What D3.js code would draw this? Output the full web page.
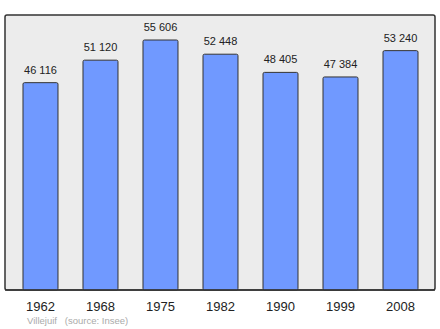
<!DOCTYPE html>
<html>
<head>
<meta charset="utf-8">
<script src="https://cdn.jsdelivr.net/npm/d3@7"></script>
<style>
  body { margin: 0; background: #fff; }
  svg { display: block; font-family: "Liberation Sans", Arial, sans-serif; }
</style>
</head>
<body>
<svg id="chart"></svg>
<script>
const years = ["1962", "1968", "1975", "1982", "1990", "1999", "2008"];
const population = [46116, 51120, 55606, 52448, 48405, 47384, 53240];
const place = "Villejuif";
const source = "(source: Insee)";

const width = 440, height = 329;
const frame = { left: 5, top: 15, right: 435, bottom: 290 };

const svg = d3.select("#chart")
  .attr("width", width)
  .attr("height", height);

// grey plot frame
svg.append("rect")
  .attr("x", frame.left)
  .attr("y", frame.top)
  .attr("width", frame.right - frame.left)
  .attr("height", frame.bottom - frame.top)
  .attr("rx", 2)
  .attr("fill", "#ececec")
  .attr("stroke", "#333")
  .attr("stroke-width", 1.5);

const x = d3.scaleBand()
  .domain(years)
  .range([10.5, 430.5])
  .paddingInner(0.4167)
  .paddingOuter(0.2083);

const y = d3.scaleLinear()
  .domain([0, d3.max(population) * 1.1])
  .range([frame.bottom, frame.top]);

const data = years.map((yr, i) => ({ year: yr, value: population[i] }));
const fmt = v => d3.format(",")(v).replace(/,/g, " ");

svg.selectAll("rect.bar")
  .data(data)
  .enter()
  .append("rect")
  .attr("class", "bar")
  .attr("x", d => x(d.year))
  .attr("y", d => y(d.value))
  .attr("width", x.bandwidth())
  .attr("height", d => y(0) - y(d.value))
  .attr("rx", 1.5)
  .attr("fill", "#7099ff")
  .attr("stroke", "#333")
  .attr("stroke-width", 1);

svg.selectAll("text.value")
  .data(data)
  .enter()
  .append("text")
  .attr("class", "value")
  .attr("x", d => x(d.year) + x.bandwidth() / 2)
  .attr("y", d => y(d.value) - 9)
  .attr("text-anchor", "middle")
  .style("font-size", "11px")
  .attr("fill", "#222")
  .text(d => fmt(d.value));

// frame border redrawn on top so bars sit inside it
svg.append("line")
  .attr("x1", frame.left).attr("x2", frame.right)
  .attr("y1", frame.bottom).attr("y2", frame.bottom)
  .attr("stroke", "#333").attr("stroke-width", 1.5);

const axis = svg.append("g")
  .attr("transform", `translate(0,${frame.bottom})`)
  .call(d3.axisBottom(x).tickSize(0).tickPadding(12));
axis.select(".domain").remove();
axis.selectAll("text")
  .style("font-size", "13px")
  .style("font-family", "Liberation Sans, Arial, sans-serif")
  .attr("fill", "#222");

svg.append("text")
  .attr("x", 27)
  .attr("y", 324)
  .style("font-size", "9.5px")
  .attr("fill", "#aaa")
  .attr("xml:space", "preserve")
  .text(place + "   " + source);
</script>
</body>
</html>
